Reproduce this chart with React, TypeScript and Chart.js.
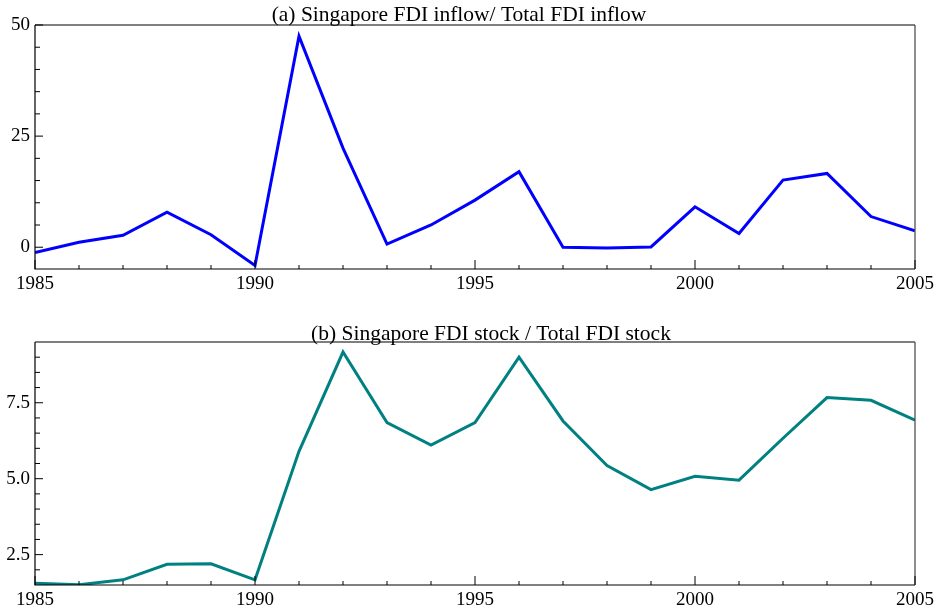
import { useEffect, useRef } from "react";
import { Chart, registerables } from "chart.js";

Chart.register(...registerables);

// ---- data ----
const years = [
  1985, 1986, 1987, 1988, 1989, 1990, 1991, 1992, 1993, 1994, 1995,
  1996, 1997, 1998, 1999, 2000, 2001, 2002, 2003, 2004, 2005,
];
const inflowShare = [
  -1.2, 1.1, 2.7, 7.9, 2.8, -4.1, 47.5, 22.3, 0.7, 5.0, 10.6,
  17.0, 0.0, -0.15, 0.07, 9.1, 3.1, 15.1, 16.6, 6.9, 3.7,
];
const stockShare = [
  1.56, 1.51, 1.67, 2.18, 2.2, 1.67, 5.9, 9.17, 6.85, 6.11, 6.85,
  9.0, 6.9, 5.43, 4.64, 5.08, 4.95, 6.33, 7.67, 7.58, 6.93,
];
const xMajorTicks = [1985, 1990, 1995, 2000, 2005];
const inflowMajorTicks = [0, 25, 50];
const inflowMinorTicks = [0, 5, 10, 15, 20, 25, 30, 35, 40, 45, 50];
const stockMajorTicks = [2.5, 5.0, 7.5];
const stockMinorTicks = [2.0, 2.5, 3.0, 3.5, 4.0, 4.5, 5.0, 5.5, 6.0, 6.5, 7.0, 7.5, 8.0, 8.5, 9.0];
const titleA = "(a) Singapore FDI inflow/ Total FDI inflow";
const titleB = "(b) Singapore FDI stock / Total FDI stock";

const SERIF = '"Liberation Serif", "Times New Roman", serif';

const decorPlugin = {
  id: "panelDecor",
  afterDraw(chart: any, _args: any, opts: any) {
    const { ctx, chartArea } = chart;
    const { left, right, top, bottom } = chartArea;
    const xs = chart.scales.x;
    const ys = chart.scales.y;
    ctx.save();
    ctx.lineWidth = 1.2;
    ctx.strokeStyle = "#000";
    // frame
    ctx.beginPath();
    ctx.moveTo(left, top);
    ctx.lineTo(right, top);
    ctx.moveTo(left, top);
    ctx.lineTo(left, bottom);
    ctx.lineTo(right, bottom);
    ctx.stroke();
    ctx.strokeStyle = "#444";
    ctx.beginPath();
    ctx.moveTo(right, top);
    ctx.lineTo(right, bottom);
    ctx.stroke();
    ctx.strokeStyle = "#000";
    ctx.lineWidth = 1;
    // y ticks (inward)
    ctx.beginPath();
    for (const v of opts.yMinor) {
      const py = ys.getPixelForValue(v);
      const len = opts.yMajor.includes(v) ? 8 : 5;
      ctx.moveTo(left, py);
      ctx.lineTo(left + len, py);
    }
    // x ticks (inward)
    for (const yr of years) {
      const px = xs.getPixelForValue(yr);
      const len = xMajorTicks.includes(yr) ? 9 : 4;
      ctx.moveTo(px, bottom);
      ctx.lineTo(px, bottom - len);
    }
    ctx.stroke();
    // title
    ctx.font = `21.5px ${SERIF}`;
    ctx.fillStyle = "#000";
    ctx.textAlign = "center";
    ctx.textBaseline = "alphabetic";
    ctx.fillText(opts.title, (left + right) / 2 + opts.titleShift, top - opts.titleGap);
    ctx.restore();
  },
};

function makeChart(canvas: HTMLCanvasElement, cfg: any) {
  return new Chart(canvas, {
    type: "line",
    data: {
      datasets: [
        {
          data: years.map((x, i) => ({ x, y: cfg.values[i] })),
          borderColor: cfg.color,
          borderWidth: 3,
          pointRadius: 0,
          tension: 0,
          fill: false,
        },
      ],
    },
    options: {
      animation: false,
      responsive: false,
      layout: { padding: { top: cfg.padTop, right: 25, left: 0, bottom: 0 } },
      plugins: {
        legend: { display: false },
        tooltip: { enabled: false },
        title: { display: false },
        panelDecor: {
          title: cfg.title,
          titleShift: cfg.titleShift,
          titleGap: cfg.titleGap,
          yMinor: cfg.yMinor,
          yMajor: cfg.yMajor,
        },
      } as any,
      scales: {
        x: {
          type: "linear",
          min: 1985,
          max: 2005,
          grid: { display: false, drawTicks: false },
          border: { display: false },
          afterBuildTicks: (s: any) => {
            s.ticks = xMajorTicks.map((v) => ({ value: v }));
          },
          afterFit: (s: any) => {
            s.height = cfg.xAxisHeight;
          },
          ticks: {
            padding: 4,
            maxRotation: 0,
            autoSkip: false,
            color: "#000",
            font: { family: SERIF, size: 19 },
            callback: (v: any) => String(v),
          },
        },
        y: {
          type: "linear",
          min: cfg.yMin,
          max: cfg.yMax,
          grid: { display: false, drawTicks: false },
          border: { display: false },
          afterBuildTicks: (s: any) => {
            s.ticks = cfg.yMajor.map((v: number) => ({ value: v }));
          },
          afterFit: (s: any) => {
            s.width = 35;
          },
          ticks: {
            padding: 5,
            autoSkip: false,
            color: "#000",
            font: { family: SERIF, size: 19 },
            callback: cfg.fmt,
          },
        },
      },
    },
    plugins: [decorPlugin],
  } as any);
}

export default function App() {
  const topRef = useRef<HTMLCanvasElement>(null);
  const botRef = useRef<HTMLCanvasElement>(null);

  useEffect(() => {
    const a = makeChart(topRef.current!, {
      values: inflowShare,
      color: "#0000FF",
      padTop: 25,
      xAxisHeight: 36,
      yMin: -4.9,
      yMax: 50,
      yMajor: inflowMajorTicks,
      yMinor: inflowMinorTicks,
      fmt: (v: any) => String(v),
      title: titleA,
      titleShift: -16,
      titleGap: 4,
    });
    const b = makeChart(botRef.current!, {
      values: stockShare,
      color: "#008080",
      padTop: 37,
      xAxisHeight: 31,
      yMin: 1.5,
      yMax: 9.5,
      yMajor: stockMajorTicks,
      yMinor: stockMinorTicks,
      fmt: (v: any) => Number(v).toFixed(1),
      title: titleB,
      titleShift: 16,
      titleGap: 2,
    });
    return () => {
      a.destroy();
      b.destroy();
    };
  }, []);

  return (
    <div
      style={{
        position: "absolute",
        left: 0,
        top: 0,
        width: 940,
        height: 616,
        background: "#fff",
        overflow: "hidden",
      }}
    >
      <canvas
        ref={topRef}
        width={940}
        height={305}
        style={{ position: "absolute", left: 0, top: 0, width: 940, height: 305 }}
      />
      <canvas
        ref={botRef}
        width={940}
        height={311}
        style={{ position: "absolute", left: 0, top: 305, width: 940, height: 311 }}
      />
    </div>
  );
}
